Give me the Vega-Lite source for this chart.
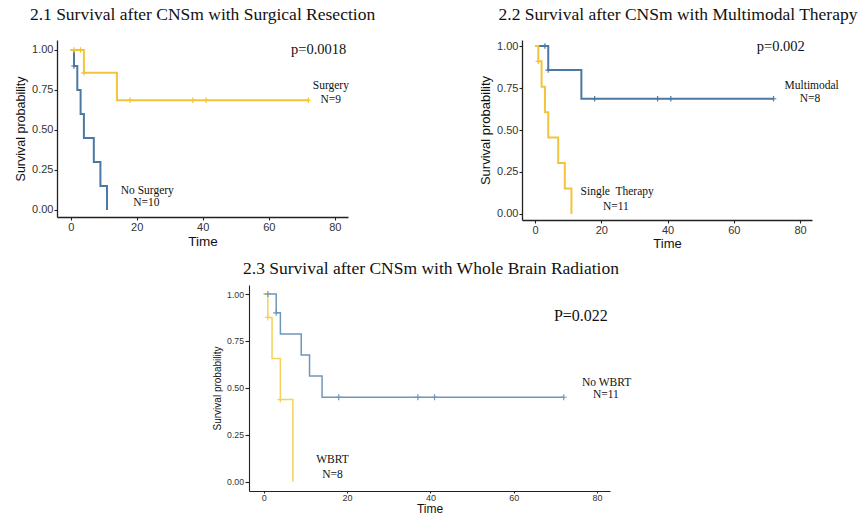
{
  "$schema": "https://vega.github.io/schema/vega-lite/v6.json",
  "padding": {"left": 14, "top": 5, "right": 0, "bottom": 0},
  "background": "white",
  "config": {
    "view": {"stroke": null},
    "axis": {"grid": false, "domainColor": "#222", "tickColor": "#222", "domainWidth": 1.3, "tickWidth": 1.1, "labelFont": "Liberation Sans", "titleFont": "Liberation Sans", "labelColor": "#333", "titleColor": "#111", "titleFontWeight": "normal"},
    "title": {"font": "Liberation Serif", "fontSize": 17.5, "fontWeight": "normal", "color": "#111", "frame": "group", "anchor": "middle"}
  },
  "datasets": {
    "curve1": [
      {"time": 0, "surv": 1, "group": "No Surgery"},
      {"time": 1, "surv": 0.9, "group": "No Surgery"},
      {"time": 2, "surv": 0.75, "group": "No Surgery"},
      {"time": 3, "surv": 0.6, "group": "No Surgery"},
      {"time": 4, "surv": 0.45, "group": "No Surgery"},
      {"time": 7, "surv": 0.3, "group": "No Surgery"},
      {"time": 9, "surv": 0.15, "group": "No Surgery"},
      {"time": 11, "surv": 0, "group": "No Surgery"},
      {"time": 0, "surv": 1, "group": "Surgery"},
      {"time": 4, "surv": 0.857, "group": "Surgery"},
      {"time": 14, "surv": 0.686, "group": "Surgery"},
      {"time": 72, "surv": 0.686, "group": "Surgery"}
    ],
    "cens1": [
      {"time": 1, "surv": 0.9, "group": "No Surgery"},
      {"time": 1, "surv": 1, "group": "Surgery"},
      {"time": 3, "surv": 1, "group": "Surgery"},
      {"time": 4, "surv": 0.857, "group": "Surgery"},
      {"time": 18, "surv": 0.686, "group": "Surgery"},
      {"time": 37, "surv": 0.686, "group": "Surgery"},
      {"time": 41, "surv": 0.686, "group": "Surgery"},
      {"time": 72, "surv": 0.686, "group": "Surgery"}
    ],
    "lab1": [
      {"time": 78.8, "surv": 0.773, "label": "Surgery"},
      {"time": 78.8, "surv": 0.6875, "label": "N=9"},
      {"time": 23.2, "surv": 0.12, "label": "No Surgery"},
      {"time": 22.9, "surv": 0.042, "label": "N=10"}
    ],
    "pv1": [{"time": 75.1, "surv": 1.0, "label": "p=0.0018"}],
    "curve2": [
      {"time": 0, "surv": 1, "group": "Multimodal"},
      {"time": 4, "surv": 0.857, "group": "Multimodal"},
      {"time": 14, "surv": 0.686, "group": "Multimodal"},
      {"time": 72, "surv": 0.686, "group": "Multimodal"},
      {"time": 0, "surv": 1, "group": "Single Therapy"},
      {"time": 1, "surv": 0.909, "group": "Single Therapy"},
      {"time": 2, "surv": 0.758, "group": "Single Therapy"},
      {"time": 3, "surv": 0.606, "group": "Single Therapy"},
      {"time": 4, "surv": 0.455, "group": "Single Therapy"},
      {"time": 7, "surv": 0.303, "group": "Single Therapy"},
      {"time": 9, "surv": 0.152, "group": "Single Therapy"},
      {"time": 11, "surv": 0, "group": "Single Therapy"}
    ],
    "cens2": [
      {"time": 3, "surv": 1, "group": "Multimodal"},
      {"time": 4, "surv": 0.857, "group": "Multimodal"},
      {"time": 18, "surv": 0.686, "group": "Multimodal"},
      {"time": 37, "surv": 0.686, "group": "Multimodal"},
      {"time": 41, "surv": 0.686, "group": "Multimodal"},
      {"time": 72, "surv": 0.686, "group": "Multimodal"},
      {"time": 1, "surv": 0.909, "group": "Single Therapy"}
    ],
    "lab2": [
      {"time": 83.5, "surv": 0.76, "label": "Multimodal"},
      {"time": 83, "surv": 0.685, "label": "N=8"},
      {"time": 24.8, "surv": 0.129, "label": "Single\u00a0 Therapy"},
      {"time": 24.4, "surv": 0.04, "label": "N=11"}
    ],
    "pv2": [{"time": 74.2, "surv": 0.992, "label": "p=0.002"}],
    "curve3": [
      {"time": 0, "surv": 1, "group": "No WBRT"},
      {"time": 3, "surv": 0.9, "group": "No WBRT"},
      {"time": 4, "surv": 0.787, "group": "No WBRT"},
      {"time": 9, "surv": 0.675, "group": "No WBRT"},
      {"time": 11, "surv": 0.563, "group": "No WBRT"},
      {"time": 14, "surv": 0.45, "group": "No WBRT"},
      {"time": 72, "surv": 0.45, "group": "No WBRT"},
      {"time": 0, "surv": 1, "group": "WBRT"},
      {"time": 1, "surv": 0.875, "group": "WBRT"},
      {"time": 2, "surv": 0.656, "group": "WBRT"},
      {"time": 4, "surv": 0.4375, "group": "WBRT"},
      {"time": 7, "surv": 0, "group": "WBRT"}
    ],
    "cens3": [
      {"time": 1, "surv": 1, "group": "No WBRT"},
      {"time": 3, "surv": 0.9, "group": "No WBRT"},
      {"time": 18, "surv": 0.45, "group": "No WBRT"},
      {"time": 37, "surv": 0.45, "group": "No WBRT"},
      {"time": 41, "surv": 0.45, "group": "No WBRT"},
      {"time": 72, "surv": 0.45, "group": "No WBRT"},
      {"time": 1, "surv": 0.875, "group": "WBRT"},
      {"time": 4, "surv": 0.4375, "group": "WBRT"}
    ],
    "lab3": [
      {"time": 82.3, "surv": 0.527, "label": "No WBRT"},
      {"time": 82.1, "surv": 0.462, "label": "N=11"},
      {"time": 16.5, "surv": 0.116, "label": "WBRT"},
      {"time": 16.5, "surv": 0.036, "label": "N=8"}
    ],
    "pv3": [{"time": 76.1, "surv": 0.883, "label": "P=0.022"}]
  },
  "spacing": 9,
  "vconcat": [
    {
      "spacing": 103,
      "hconcat": [
        {
          "width": 291, "height": 177,
          "title": {"text": "2.1 Survival after CNSm with Surgical Resection", "offset": 17},
          "encoding": {
            "x": {"field": "time", "type": "quantitative", "scale": {"domain": [-4.15, 84], "nice": false, "zero": false}, "axis": {"values": [0, 20, 40, 60, 80], "title": "Time", "labelFontSize": 11, "titleFontSize": 13.5, "tickSize": 3, "labelPadding": 1, "titlePadding": 2, "labelFlush": false}},
            "y": {"field": "surv", "type": "quantitative", "scale": {"domain": [-0.044, 1.0625], "nice": false, "zero": false}, "axis": {"values": [0, 0.25, 0.5, 0.75, 1], "format": ".2f", "title": "Survival probability", "labelFontSize": 11, "titleFontSize": 12.5, "tickSize": 3, "labelPadding": 1, "titlePadding": 4}}
          },
          "layer": [
            {"data": {"name": "curve1"}, "mark": {"type": "line", "interpolate": "step-after", "strokeWidth": 2},
             "encoding": {"color": {"field": "group", "type": "nominal", "legend": null, "scale": {"domain": ["No Surgery", "Surgery", "Multimodal", "Single Therapy", "No WBRT", "WBRT"], "range": ["#4C79A2", "#F2C43D", "#4C79A2", "#F2C43D", "#6F96BB", "#F5D15A"]}}}},
            {"data": {"name": "cens1"}, "mark": {"type": "point", "shape": "M-1,0H1M0,-1V1", "filled": false, "size": 30, "strokeWidth": 1.2, "opacity": 1},
             "encoding": {"color": {"field": "group", "type": "nominal", "legend": null}}},
            {"data": {"name": "lab1"}, "mark": {"type": "text", "font": "Liberation Serif", "fontSize": 11.5, "color": "#111"}, "encoding": {"text": {"field": "label"}}},
            {"data": {"name": "pv1"}, "mark": {"type": "text", "font": "Liberation Serif", "fontSize": 14.5, "color": "#111"}, "encoding": {"text": {"field": "label"}}}
          ]
        },
        {
          "width": 290, "height": 180,
          "title": {"text": "2.2 Survival after CNSm with Multimodal Therapy", "offset": 16, "dx": 11},
          "encoding": {
            "x": {"field": "time", "type": "quantitative", "scale": {"domain": [-3.92, 83.6], "nice": false, "zero": false}, "axis": {"values": [0, 20, 40, 60, 80], "title": "Time", "labelFontSize": 11, "titleFontSize": 13, "tickSize": 3, "labelPadding": 1, "titlePadding": 2, "labelFlush": false}},
            "y": {"field": "surv", "type": "quantitative", "scale": {"domain": [-0.036, 1.036], "nice": false, "zero": false}, "axis": {"values": [0, 0.25, 0.5, 0.75, 1], "format": ".2f", "title": "Survival probability", "labelFontSize": 11, "titleFontSize": 13, "tickSize": 3, "labelPadding": 1, "titlePadding": 4}}
          },
          "layer": [
            {"data": {"name": "curve2"}, "mark": {"type": "line", "interpolate": "step-after", "strokeWidth": 2},
             "encoding": {"color": {"field": "group", "type": "nominal", "legend": null, "scale": {"domain": ["No Surgery", "Surgery", "Multimodal", "Single Therapy", "No WBRT", "WBRT"], "range": ["#4C79A2", "#F2C43D", "#4C79A2", "#F2C43D", "#6F96BB", "#F5D15A"]}}}},
            {"data": {"name": "cens2"}, "mark": {"type": "point", "shape": "M-1,0H1M0,-1V1", "filled": false, "size": 30, "strokeWidth": 1.2, "opacity": 1},
             "encoding": {"color": {"field": "group", "type": "nominal", "legend": null}}},
            {"data": {"name": "lab2"}, "mark": {"type": "text", "font": "Liberation Serif", "fontSize": 11.5, "color": "#111"}, "encoding": {"text": {"field": "label"}}},
            {"data": {"name": "pv2"}, "mark": {"type": "text", "font": "Liberation Serif", "fontSize": 14.5, "color": "#111"}, "encoding": {"text": {"field": "label"}}}
          ]
        }
      ]
    },
    {
      "spacing": 0,
      "hconcat": [
        {"width": 155, "height": 10, "data": {"values": []}, "mark": {"type": "point", "opacity": 0}},
        {
          "width": 361, "height": 206,
          "title": {"text": "2.3 Survival after CNSm with Whole Brain Radiation", "offset": 8, "dx": 1.5},
          "encoding": {
            "x": {"field": "time", "type": "quantitative", "scale": {"domain": [-3.53, 83.1], "nice": false, "zero": false}, "axis": {"values": [0, 20, 40, 60, 80], "title": "Time", "labelFontSize": 9, "titleFontSize": 12, "tickSize": 2, "labelPadding": 0, "titlePadding": 1, "labelFlush": false, "domainWidth": 1.1}},
            "y": {"field": "surv", "type": "quantitative", "scale": {"domain": [-0.0496, 1.048], "nice": false, "zero": false}, "axis": {"values": [0, 0.25, 0.5, 0.75, 1], "format": ".2f", "title": "Survival probability", "labelFontSize": 8.7, "titleFontSize": 10, "tickSize": 4, "labelPadding": 1.5, "titlePadding": 4, "domainWidth": 1.1}}
          },
          "layer": [
            {"data": {"name": "curve3"}, "mark": {"type": "line", "interpolate": "step-after", "strokeWidth": 1.5},
             "encoding": {"color": {"field": "group", "type": "nominal", "legend": null, "scale": {"domain": ["No Surgery", "Surgery", "Multimodal", "Single Therapy", "No WBRT", "WBRT"], "range": ["#4C79A2", "#F2C43D", "#4C79A2", "#F2C43D", "#6F96BB", "#F5D15A"]}}}},
            {"data": {"name": "cens3"}, "mark": {"type": "point", "shape": "M-1,0H1M0,-1V1", "filled": false, "size": 36, "strokeWidth": 1.2, "opacity": 1},
             "encoding": {"color": {"field": "group", "type": "nominal", "legend": null}}},
            {"data": {"name": "lab3"}, "mark": {"type": "text", "font": "Liberation Serif", "fontSize": 11.5, "color": "#111"}, "encoding": {"text": {"field": "label"}}},
            {"data": {"name": "pv3"}, "mark": {"type": "text", "font": "Liberation Serif", "fontSize": 16, "color": "#111"}, "encoding": {"text": {"field": "label"}}}
          ]
        }
      ]
    }
  ]
}
